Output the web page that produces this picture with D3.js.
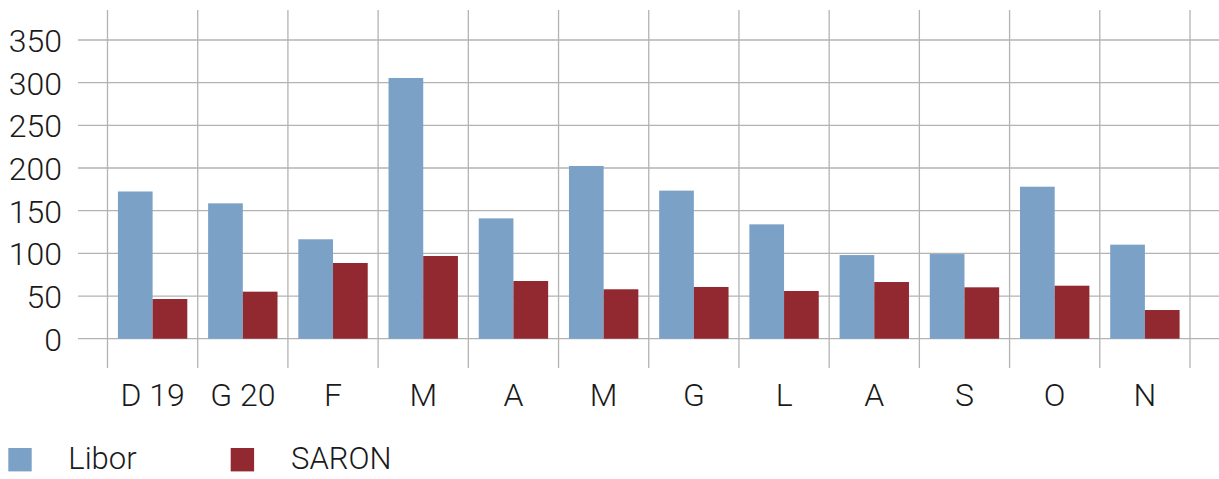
<!DOCTYPE html>
<html><head><meta charset="utf-8">
<script src="https://cdn.jsdelivr.net/npm/d3@7"></script>
<style>
html,body{margin:0;padding:0;background:#fff;}
svg{display:block;font-family:Roboto,"Liberation Sans",sans-serif;font-weight:300;}
</style></head>
<body>
<svg id="chart" width="1219" height="479"></svg>
<script>
const categories = ["D 19","G 20","F","M","A","M","G","L","A","S","O","N"];
const libor = [172.5,158.6,116.5,305.5,141,202.4,173.5,134,98,99.2,178.1,110.2];
const saron = [46.5,55.1,88.7,96.9,67.6,57.9,60.6,55.9,66.4,60.2,62.1,33.6];
const yTicks = [0,50,100,150,200,250,300,350];
const seriesNames = ["Libor","SARON"];
const colors = ["#7BA2C6","#922830"];

const svg = d3.select("#chart");
const x = d3.scaleBand().domain(d3.range(categories.length)).range([107.5,1190]).padding(0);
const y = d3.scaleLinear().domain([0,350]).range([338.7,40]);
const sub = d3.scaleBand().domain([0,1]).range([0,x.bandwidth()]).paddingInner(0).paddingOuter(0.3);

// horizontal grid
svg.append("g").selectAll("line").data(yTicks).join("line")
  .attr("x1",78).attr("x2",1219)
  .attr("y1",d=>y(d)).attr("y2",d=>y(d))
  .attr("stroke","#b3b3b3").attr("stroke-width",1.3);
// vertical grid
const bounds = d3.range(categories.length+1).map(i=> i<categories.length ? x(i) : x(categories.length-1)+x.bandwidth());
svg.append("g").selectAll("line").data(bounds).join("line")
  .attr("x1",d=>d).attr("x2",d=>d).attr("y1",10).attr("y2",368)
  .attr("stroke","#b3b3b3").attr("stroke-width",1.3);

// bars
const data = [libor, saron];
data.forEach((vals,si)=>{
  svg.append("g").selectAll("rect").data(vals).join("rect")
    .attr("x",(d,i)=>x(i)+sub(si))
    .attr("width",sub.bandwidth())
    .attr("y",d=>y(d))
    .attr("height",d=>y(0)-y(d))
    .attr("fill",colors[si]);
});

// y axis labels
const yAxis = d3.axisLeft(y).tickValues(yTicks).tickSize(0).tickPadding(0);
const ya = svg.append("g").attr("transform","translate(62,0)").call(yAxis);
ya.select(".domain").remove();
ya.selectAll("text").attr("font-size",32).attr("fill","#1a1a1a")
  .attr("font-family","Roboto,'Liberation Sans',sans-serif").attr("font-weight",300).attr("dy","0.36em");

// x axis labels
const xAxis = d3.axisBottom(x).tickFormat(i=>categories[i]).tickSize(0).tickPadding(0);
const xa = svg.append("g").attr("transform","translate(0,406)").call(xAxis);
xa.select(".domain").remove();
xa.selectAll("text").attr("font-size",32).attr("fill","#1a1a1a").attr("dy",0)
  .attr("font-family","Roboto,'Liberation Sans',sans-serif").attr("font-weight",300);

// legend
const legX = [8.3,230.7];
const legTX = [68.3,291];
seriesNames.forEach((n,i)=>{
  svg.append("rect").attr("x",legX[i]).attr("y",448).attr("width",23.4).attr("height",23.4).attr("fill",colors[i]);
  svg.append("text").attr("x",legTX[i]).attr("y",469).attr("font-size",31).attr("fill","#1a1a1a").text(n);
});
</script>
</body></html>
